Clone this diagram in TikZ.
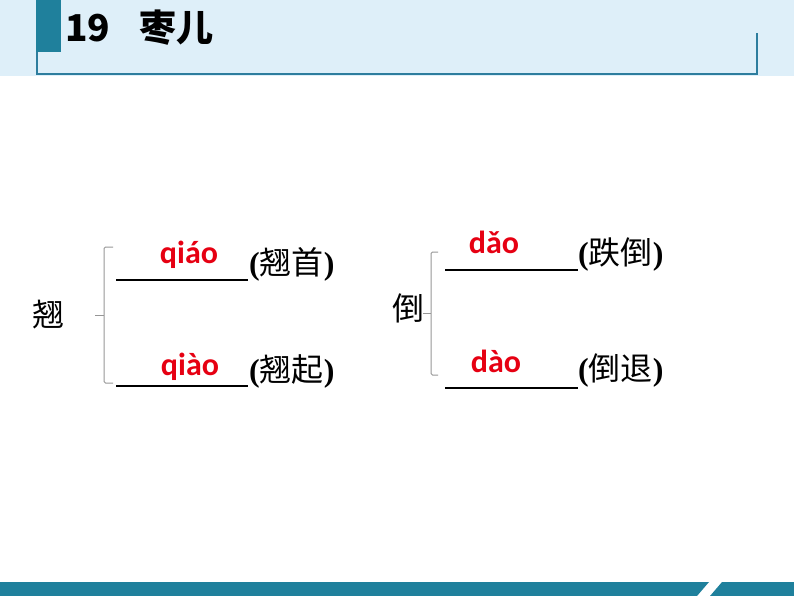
\documentclass[tikz,border=0pt]{standalone}
\usepackage{fontspec}
\setmainfont{Liberation Serif}
\newfontfamily\cjk{Noto Sans CJK SC}
\newfontfamily\pyfont{Carlito}
\definecolor{band}{RGB}{222,239,249}
\definecolor{teal}{RGB}{31,128,156}
\definecolor{hline}{RGB}{45,125,158}
\definecolor{pyred}{RGB}{230,0,18}
\definecolor{brk}{RGB}{150,150,150}
\tikzset{
  py/.style={anchor=base, inner sep=0pt, text=pyred, font=\pyfont\bfseries\fontsize{32}{36}\selectfont},
  word/.style={anchor=west, inner sep=0pt, font=\fontsize{32}{36}\selectfont},
  head/.style={anchor=center, inner sep=0pt, font=\fontsize{32}{36}\selectfont\cjk},
  blank/.style={line width=2pt, black},
  bracket/.style={line width=1pt, brk, rounded corners=1.5pt},
  title/.style={anchor=base west, inner sep=0pt, font=\cjk\bfseries\fontsize{37}{40}\selectfont}
}
\newcommand{\wordpar}[1]{{\bfseries(}{\cjk #1}{\bfseries)}}
\begin{document}
\begin{tikzpicture}[x=1pt,y=-1pt]
\useasboundingbox (0,0) rectangle (794,596);
% header
\fill[band] (0,0) rectangle (794,76);
\fill[teal] (36,0) rectangle (61,52);
\draw[hline, line width=2pt] (36.5,52) -- (36.5,74) -- (757,74) -- (757,33);
\node[title] (t) at (65,42) {19\hspace{0.8em}枣儿};
% footer
\fill[teal] (0,582) -- (709,582) -- (697,596) -- (0,596) -- cycle;
\fill[teal] (722,582) -- (794,582) -- (794,596) -- (710,596) -- cycle;
% left group
\node[head] (qchar) at (48,315) {翘};
\coordinate (lb1) at (113,247);
\coordinate (lb2) at (113,383);
\coordinate (lbm) at (104,315);
\coordinate (lbt) at (95,315);
\draw[bracket] (lb1) -- (104,247) -- (104,383) -- (lb2);
\draw[bracket] (lbt) -- (lbm);
\coordinate (l1a) at (116,280); \coordinate (l1b) at (248,280);
\coordinate (l2a) at (116,386); \coordinate (l2b) at (248,386);
\draw[blank] (l1a) -- (l1b);
\draw[blank] (l2a) -- (l2b);
\node[py] (p1) at (189,263) {qiáo};
\node[py] (p2) at (190,375) {qiào};
\node[word] (w1) at (249,264) {\wordpar{翘首}};
\node[word] (w2) at (249,371) {\wordpar{翘起}};
% right group
\node[head] (dchar) at (408,308) {倒};
\coordinate (rb1) at (438,252);
\coordinate (rb2) at (438,375);
\coordinate (rbm) at (431,313);
\coordinate (rbt) at (423,313);
\draw[bracket] (rb1) -- (431,252) -- (431,375) -- (rb2);
\draw[bracket] (rbt) -- (rbm);
\coordinate (r1a) at (445,270); \coordinate (r1b) at (578,270);
\coordinate (r2a) at (445,388); \coordinate (r2b) at (578,388);
\draw[blank] (r1a) -- (r1b);
\draw[blank] (r2a) -- (r2b);
\node[py] (p3) at (494,253) {dǎo};
\node[py] (p4) at (496,372) {dào};
\node[word] (w3) at (578,255) {\wordpar{跌倒}};
\node[word] (w4) at (578,371) {\wordpar{倒退}};
\end{tikzpicture}
\end{document}
